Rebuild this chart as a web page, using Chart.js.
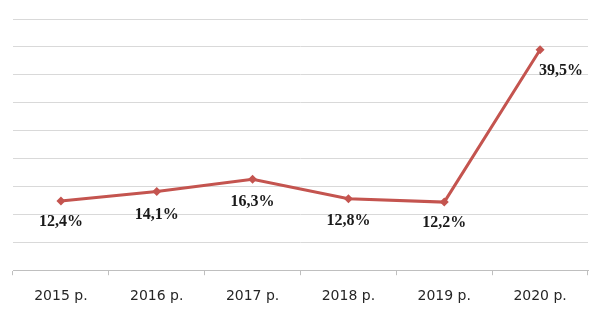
<!DOCTYPE html>
<html>
<head>
<meta charset="utf-8">
<script src="https://cdn.jsdelivr.net/npm/chart.js@4"></script>
<style>
  html, body { margin: 0; padding: 0; background: #fff; }
  #wrap { width: 610px; height: 324px; }
</style>
</head>
<body>
<div id="wrap"><canvas id="growth-chart" width="610" height="324"></canvas></div>
<script>
const years = ['2015 р.', '2016 р.', '2017 р.', '2018 р.', '2019 р.', '2020 р.'];
const growth = [12.4, 14.1, 16.3, 12.8, 12.2, 39.5];
const growthLabels = ['12,4%', '14,1%', '16,3%', '12,8%', '12,2%', '39,5%'];

// Value labels under each marker; the last one sits right of its point
const valueLabels = {
  id: 'valueLabels',
  afterDatasetsDraw(chart) {
    const ctx = chart.ctx;
    const meta = chart.getDatasetMeta(0);
    ctx.save();
    ctx.font = 'bold 16px "Liberation Serif", "Times New Roman", serif';
    ctx.fillStyle = '#1a1a1a';
    ctx.textAlign = 'center';
    ctx.textBaseline = 'middle';
    meta.data.forEach((pt, i) => {
      const dx = i === meta.data.length - 1 ? 21 : 0;
      const dy = [21, 23, 23, 22, 21, 21][i];
      ctx.fillText(growthLabels[i], pt.x + dx, pt.y + dy);
    });
    ctx.restore();
  }
};

const ctx = document.getElementById('growth-chart').getContext('2d');
new Chart(ctx, {
  type: 'line',
  data: {
    labels: years,
    datasets: [{
      data: growth,
      borderColor: '#c4544f',
      backgroundColor: '#c4544f',
      borderWidth: 3,
      pointStyle: 'rectRot',
      pointRadius: 4.5,
      pointBorderWidth: 0,
      tension: 0
    }]
  },
  options: {
    responsive: false,
    animation: false,
    layout: { padding: { left: 13, right: 22, top: 19, bottom: 6 } },
    plugins: {
      legend: { display: false },
      tooltip: { enabled: false }
    },
    scales: {
      x: {
        offset: true,
        border: { color: '#bfbfbf', width: 1 },
        grid: {
          offset: true,
          drawOnChartArea: false,
          drawTicks: true,
          tickLength: 5,
          tickColor: '#bfbfbf'
        },
        ticks: {
          color: '#262626',
          padding: 13,
          font: { family: '"DejaVu Sans", sans-serif', size: 14 },
          maxRotation: 0
        }
      },
      y: {
        min: 0,
        max: 45,
        border: { display: false },
        grid: { color: '#d9d9d9', lineWidth: 1, drawTicks: false },
        ticks: { display: false, stepSize: 5 }
      }
    }
  },
  plugins: [valueLabels]
});
</script>
</body>
</html>
